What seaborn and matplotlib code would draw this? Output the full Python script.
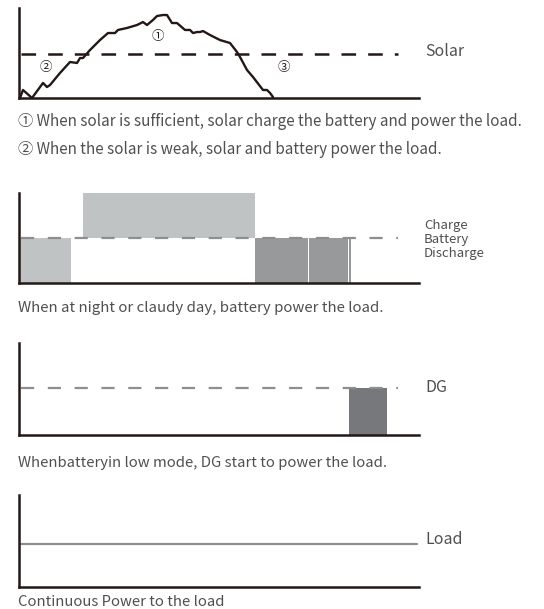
import matplotlib
matplotlib.use('Agg')
import matplotlib.pyplot as plt
import seaborn as sns
import pandas as pd

# solar curve (x: % of day axis, y: % of axis height)
solar_x = [0.25, 1, 3.25, 6, 7, 7.75, 10.25, 12.75, 14.5, 15.25, 16, 17.75, 20.25, 22.25,
           24, 24.75, 27, 29.5, 31, 32, 33.5, 34.5, 36, 37, 38.25, 39.5, 41.5, 42.75, 43.5,
           44.5, 45.25, 46, 47.75, 50.25, 52.75, 54.5, 55.25, 57, 58.5, 61, 62, 62.75, 63.5]
solar_y = [0, 8.9, 0, 16.7, 12.2, 14.4, 27.8, 40, 38.9, 44.4, 44.4, 53.3, 64.4, 72.2,
           72.2, 75.6, 77.8, 81.1, 84.4, 81.1, 86.7, 91.1, 92.2, 92.2, 83.3, 83.3, 75.6, 75.6, 72.2,
           73.3, 73.3, 74.4, 70, 64.4, 61.1, 51.1, 45.6, 31.1, 23.3, 8.9, 8.9, 5.6, 1.1]
solar_level = 48.9
solar_marks = ['①', '②', '③']
solar_mark_x = [34.75, 6.75, 66.25]
solar_mark_y = [67.8, 34.4, 34.4]

# battery panel
batt_level = 50
charge_left = [16]
charge_width = [43]
discharge_left = [0, 59, 72.6, 82.4]
discharge_width = [12.9, 13.25, 9.55, 0.6]
discharge_color = ['#c0c3c3', '#98999b', '#98999b', '#98999b']

# DG panel
dg_level = 51
dg_left = [82.5]
dg_width = [9.4]

# load panel
load_level = 46.7
ref_x = [0.5, 94.75]
load_x = [0.5, 99.5]

captions = [
    '① When solar is sufficient, solar charge the battery and power the load.',
    '② When the solar is weak, solar and battery power the load.',
    'When at night or claudy day, battery power the load.',
    'Whenbatteryin low mode, DG start to power the load.',
    'Continuous Power to the load',
]

sns.set_theme(style='white')
plt.rcParams['font.family'] = ['Noto Sans CJK SC', 'DejaVu Sans']
plt.rcParams['lines.scale_dashes'] = False

W, H = 544, 609
AXIS = '#231815'
TXT = '#505050'
GRAY = '#8c8e90'

fig = plt.figure(figsize=(W / 100, H / 100), dpi=100)


def panel(top, bottom):
    ax = fig.add_axes([19 / W, 1 - bottom / H, 400 / W, (bottom - top) / H])
    ax.set_xlim(0, 100)
    ax.set_ylim(0, 100)
    ax.set_xticks([])
    ax.set_yticks([])
    for s in ['top', 'right']:
        ax.spines[s].set_visible(False)
    for s in ['left', 'bottom']:
        ax.spines[s].set_color(AXIS)
        ax.spines[s].set_linewidth(1.8)
        ax.spines[s].set_zorder(5)
    ax.set_facecolor('none')
    return ax


def txt(x, y, s, size, **kw):
    fig.text(x / W, 1 - y / H, s, fontsize=size, color=TXT, va='center', **kw)


# panel 1: solar
ax1 = panel(8, 98)
sol = pd.DataFrame({'x': solar_x, 'y': solar_y})
sns.lineplot(data=sol, x='x', y='y', ax=ax1, color=AXIS, lw=1.7, sort=False,
             estimator=None, clip_on=False)
sns.lineplot(x=ref_x, y=[solar_level] * 2, ax=ax1, color=AXIS, lw=1.8,
             linestyle=(0, (10.5, 8.7)))
for m, mx, my in zip(solar_marks, solar_mark_x, solar_mark_y):
    ax1.text(mx, my, m, fontsize=9, ha='center', va='center', color=AXIS)
ax1.set_xlabel('')
ax1.set_ylabel('')
txt(425, 51, 'Solar', 11.5)
txt(18, 121, captions[0], 11)
txt(18, 149, captions[1], 11)

# panel 2: battery
ax2 = panel(193, 283)
ax2.bar(charge_left, [100 - batt_level] * len(charge_left), width=charge_width,
        bottom=batt_level, align='edge', color='#c0c3c3', lw=0)
ax2.bar(discharge_left, [batt_level] * len(discharge_left), width=discharge_width,
        align='edge', color=discharge_color, lw=0)
sns.lineplot(x=ref_x, y=[batt_level] * 2, ax=ax2, color=GRAY, lw=1.6,
             linestyle=(0, (9.5, 9.8)))
ax2.set_xlabel('')
ax2.set_ylabel('')
txt(424, 225, 'Charge', 9.5)
txt(424, 239, 'Battery', 9.5)
txt(424, 253, 'Discharge', 9.5)
txt(18, 308, captions[2], 10.8)

# panel 3: DG
ax3 = panel(343, 435)
ax3.bar(dg_left, [dg_level] * len(dg_left), width=dg_width, align='edge',
        color='#77787b', lw=0)
sns.lineplot(x=ref_x, y=[dg_level] * 2, ax=ax3, color=GRAY, lw=1.6,
             linestyle=(0, (9.5, 9.8)))
ax3.set_xlabel('')
ax3.set_ylabel('')
txt(425, 388, 'DG', 11.5)
txt(18, 463, captions[3], 10.7)

# panel 4: load
ax4 = panel(495, 587)
sns.lineplot(x=load_x, y=[load_level] * 2, ax=ax4, color='#8e8e8e', lw=1.6)
ax4.set_xlabel('')
ax4.set_ylabel('')
txt(425, 539, 'Load', 11.5)
txt(18, 602, captions[4], 10.7)

fig.savefig('out.png', dpi=100)
